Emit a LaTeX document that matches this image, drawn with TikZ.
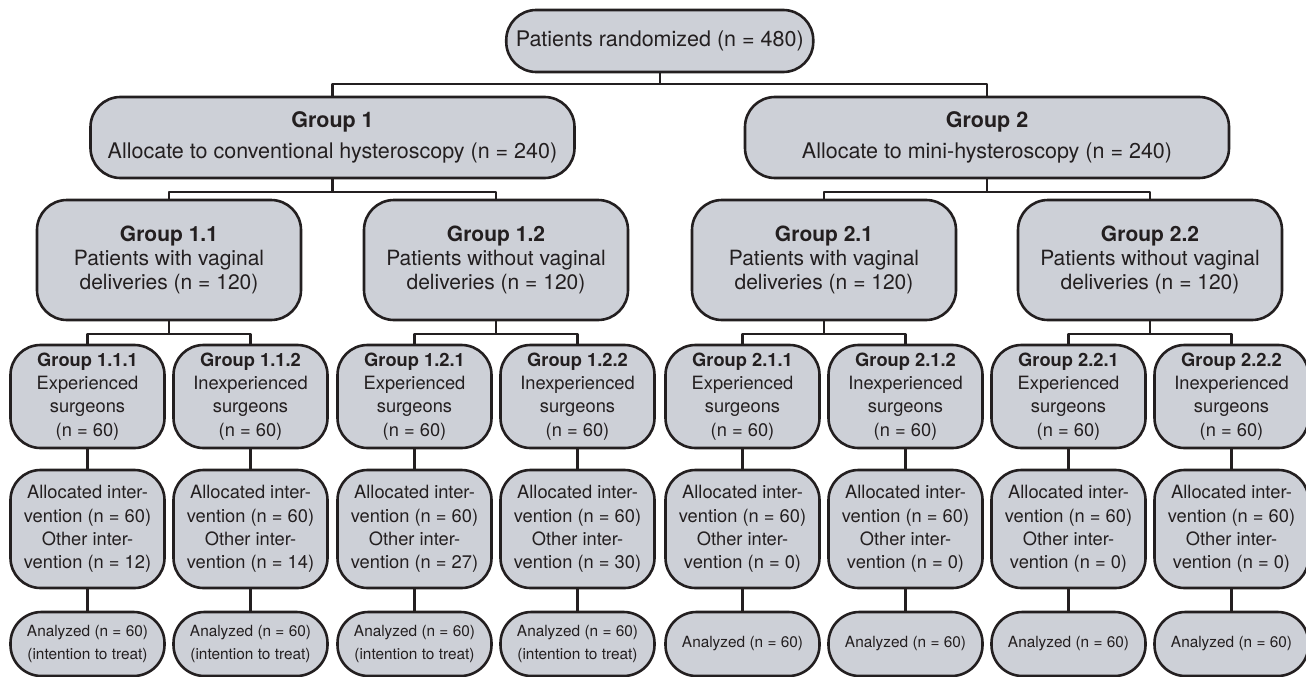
\documentclass[tikz,border=0pt]{standalone}
\usepackage{fontspec}
\setmainfont{TeX Gyre Heros}
\usepackage{xcolor}
\usetikzlibrary{positioning}
\definecolor{boxfill}{RGB}{205,208,215}
\definecolor{ink}{RGB}{35,31,32}

\begin{document}
\begin{tikzpicture}[x=1pt, y=-1pt, line join=round,
    box/.style={draw=ink, fill=boxfill, line width=2.6pt, rounded corners=30pt, align=center, text=ink, inner sep=0pt},
    headbox/.style={box, minimum width=484pt, minimum height=81pt, font=\fontsize{21.5}{24.5}\selectfont},
    subbox/.style={box, minimum width=264pt, minimum height=120pt, font=\fontsize{21}{24.2}\selectfont},
    surgbox/.style={box, minimum width=154pt, minimum height=103pt, font=\fontsize{18.3}{23.3}\selectfont},
    allocbox/.style={box, minimum width=154pt, minimum height=118pt, font=\fontsize{18.3}{23.3}\selectfont},
    anabox/.style={box, minimum width=154pt, minimum height=64pt, rounded corners=31pt, font=\fontsize{15.4}{23.3}\selectfont},
    link/.style={draw=ink, line width=2.2pt}]
    \useasboundingbox (0,0) rectangle (1306,677);

    \node[box, minimum width=307pt, minimum height=62pt, font=\fontsize{21.5}{24.5}\selectfont] (top) at (659.75,41) {Patients randomized (n = 480)};

    \node[headbox] (g1) at (332.5,137.5) {\textbf{Group 1}\\[7pt]Allocate to conventional hysteroscopy (n = 240)};
    \node[headbox] (g2) at (987,137.5) {\textbf{Group 2}\\[7pt]Allocate to mini-hysteroscopy (n = 240)};

    \node[subbox] (g11) at (169,260) {\textbf{Group 1.1}\\Patients with vaginal\\deliveries (n = 120)};
    \node[subbox] (g12) at (496,260) {\textbf{Group 1.2}\\Patients without vaginal\\deliveries (n = 120)};
    \node[subbox] (g21) at (824,260) {\textbf{Group 2.1}\\Patients with vaginal\\deliveries (n = 120)};
    \node[subbox] (g22) at (1150,260) {\textbf{Group 2.2}\\Patients without vaginal\\deliveries (n = 120)};

    \node[surgbox] (s111) at (87.5,396.5) {\textbf{Group 1.1.1}\\Experienced\\surgeons\\(n = 60)};
    \node[surgbox] (s112) at (250.5,396.5) {\textbf{Group 1.1.2}\\Inexperienced\\surgeons\\(n = 60)};
    \node[surgbox] (s121) at (414.5,396.5) {\textbf{Group 1.2.1}\\Experienced\\surgeons\\(n = 60)};
    \node[surgbox] (s122) at (577.5,396.5) {\textbf{Group 1.2.2}\\Inexperienced\\surgeons\\(n = 60)};
    \node[surgbox] (s211) at (742.5,396.5) {\textbf{Group 2.1.1}\\Experienced\\surgeons\\(n = 60)};
    \node[surgbox] (s212) at (905.5,396.5) {\textbf{Group 2.1.2}\\Inexperienced\\surgeons\\(n = 60)};
    \node[surgbox] (s221) at (1068.5,396.5) {\textbf{Group 2.2.1}\\Experienced\\surgeons\\(n = 60)};
    \node[surgbox] (s222) at (1231.5,396.5) {\textbf{Group 2.2.2}\\Inexperienced\\surgeons\\(n = 60)};

    \node[allocbox] (a111) at (87.5,529) {Allocated inter-\\vention (n = 60)\\Other inter-\\vention (n = 12)};
    \node[allocbox] (a112) at (250.5,529) {Allocated inter-\\vention (n = 60)\\Other inter-\\vention (n = 14)};
    \node[allocbox] (a121) at (414.5,529) {Allocated inter-\\vention (n = 60)\\Other inter-\\vention (n = 27)};
    \node[allocbox] (a122) at (577.5,529) {Allocated inter-\\vention (n = 60)\\Other inter-\\vention (n = 30)};
    \node[allocbox] (a211) at (742.5,529) {Allocated inter-\\vention (n = 60)\\Other inter-\\vention (n = 0)};
    \node[allocbox] (a212) at (905.5,529) {Allocated inter-\\vention (n = 60)\\Other inter-\\vention (n = 0)};
    \node[allocbox] (a221) at (1068.5,529) {Allocated inter-\\vention (n = 60)\\Other inter-\\vention (n = 0)};
    \node[allocbox] (a222) at (1231.5,529) {Allocated inter-\\vention (n = 60)\\Other inter-\\vention (n = 0)};

    \node[anabox] (n111) at (87.5,644) {Analyzed (n = 60)\\(intention to treat)};
    \node[anabox] (n112) at (250.5,644) {Analyzed (n = 60)\\(intention to treat)};
    \node[anabox] (n121) at (414.5,644) {Analyzed (n = 60)\\(intention to treat)};
    \node[anabox] (n122) at (577.5,644) {Analyzed (n = 60)\\(intention to treat)};
    \node[anabox] (n211) at (742.5,644) {Analyzed (n = 60)};
    \node[anabox] (n212) at (905.5,644) {Analyzed (n = 60)};
    \node[anabox] (n221) at (1068.5,644) {Analyzed (n = 60)};
    \node[anabox] (n222) at (1231.5,644) {Analyzed (n = 60)};

    \coordinate[below=11pt of top.south] (j0);
    \coordinate[below=13pt of g1.south] (j1);
    \coordinate[below=13pt of g2.south] (j2);
    \coordinate[below=13pt of g11.south] (j11);
    \coordinate[below=13pt of g12.south] (j12);
    \coordinate[below=13pt of g21.south] (j21);
    \coordinate[below=13pt of g22.south] (j22);

    \draw[link] (top.south) -- (j0);
    \draw[link] (g1.north) |- (j0) -| (g2.north);
    \draw[link] (g1.south) -- (j1);
    \draw[link] (g11.north) |- (j1) -| (g12.north);
    \draw[link] (g2.south) -- (j2);
    \draw[link] (g21.north) |- (j2) -| (g22.north);
    \draw[link] (g11.south) -- (j11);
    \draw[link] (s111.north) |- (j11) -| (s112.north);
    \draw[link] (g12.south) -- (j12);
    \draw[link] (s121.north) |- (j12) -| (s122.north);
    \draw[link] (g21.south) -- (j21);
    \draw[link] (s211.north) |- (j21) -| (s212.north);
    \draw[link] (g22.south) -- (j22);
    \draw[link] (s221.north) |- (j22) -| (s222.north);

    \draw[link] (s111) -- (a111) (a111) -- (n111);
    \draw[link] (s112) -- (a112) (a112) -- (n112);
    \draw[link] (s121) -- (a121) (a121) -- (n121);
    \draw[link] (s122) -- (a122) (a122) -- (n122);
    \draw[link] (s211) -- (a211) (a211) -- (n211);
    \draw[link] (s212) -- (a212) (a212) -- (n212);
    \draw[link] (s221) -- (a221) (a221) -- (n221);
    \draw[link] (s222) -- (a222) (a222) -- (n222);
\end{tikzpicture}
\end{document}
